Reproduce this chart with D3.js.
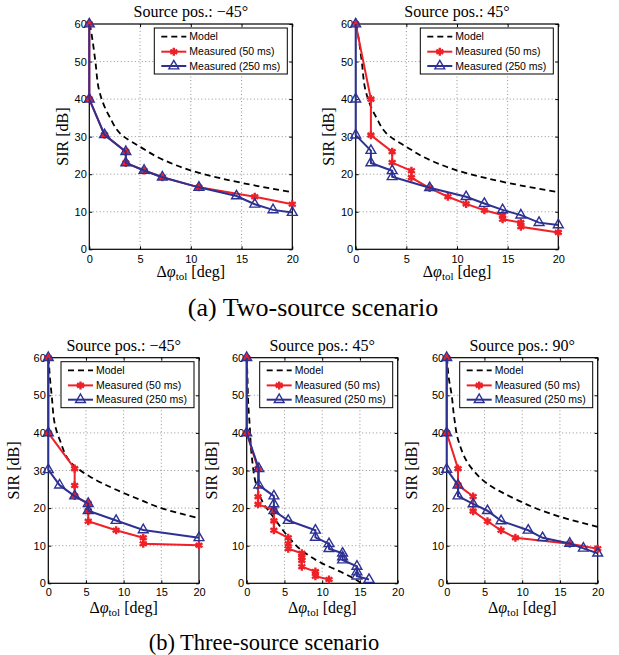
<!DOCTYPE html>
<html>
<head>
<meta charset="utf-8">
<script src="https://cdn.jsdelivr.net/npm/d3@7"></script>
<style>
  body { margin: 0; background: #fff; }
  svg { display: block; }
</style>
</head>
<body>
<script>
// tick values and labels
var xTicks = [0, 5, 10, 15, 20];
var yTicks = [0, 10, 20, 30, 40, 50, 60];
var seriesNames = ["Model", "Measured (50 ms)", "Measured (250 ms)"];
var panelTitles = ["Source pos.: \u221245\u00b0", "Source pos.: 45\u00b0",
                   "Source pos.: \u221245\u00b0", "Source pos.: 45\u00b0", "Source pos.: 90\u00b0"];
var captions = ["(a) Two-source scenario", "(b) Three-source scenario"];

// [delta phi tol (deg), SIR (dB)]
var modelTwo = [[0.05,60],[0.3,56],[0.6,50],[1.0,42],[1.5,38],[2.0,35.3],[3.4,30],[5,27.3],[7.3,23.8],[10.9,20.3],[15,17.7],[20,15.2]];
var twoNeg45_50 = [[0,60],[0,40],[1.5,30.5],[3.6,26],[3.6,23],[5.4,21],[7.2,19.2],[10.8,16.5],[16.3,14],[20,12]];
var twoNeg45_250 = [[0,60],[0,40],[1.5,30.5],[3.6,26],[3.6,23],[5.4,21],[7.2,19.2],[10.8,16.5],[14.5,14.2],[16.3,12],[18.1,10.5],[20,9.8]];
var two45_50 = [[0,60],[1.5,40],[1.5,30.4],[3.6,26],[3.6,23.1],[5.5,20.9],[5.5,19.1],[7.3,16.3],[9.1,14],[10.9,12.1],[12.7,10.4],[14.5,9.1],[14.5,8],[16.3,7.1],[16.3,6],[20,4.5]];
var two45_250 = [[0,60],[0,40],[0,30.4],[1.5,26.3],[1.5,23],[3.6,20.9],[3.6,19.3],[7.3,16.4],[10.9,14],[12.7,12.2],[14.5,10.5],[16.3,9.1],[18.1,7.1],[20,6.5]];

var modelThreeNeg45 = [[0.05,60],[0.2,55],[0.45,50],[0.9,42],[1.55,38],[3.3,31.5],[5.5,28.4],[9.1,24.8],[12.2,22.2],[14.4,20.4],[20,17.3]];
var threeNeg45_50 = [[0,60],[0,40],[3.5,30.5],[3.5,26],[3.5,23.2],[5.3,21.2],[5.3,19.3],[5.3,16.5],[9,14.1],[12.6,12.1],[12.6,10.5],[20,10.1]];
var threeNeg45_250 = [[0,60],[0,40],[0,30.2],[1.5,26.1],[3.5,23.2],[5.3,21.2],[5.3,19.3],[9,16.7],[12.6,14.2],[20,12.1]];

var modelThree45 = [[0,60],[0.1,55],[0.2,48],[0.4,42],[0.66,34],[1.3,26],[2.2,21.3],[3.5,17.7],[5.5,12.4],[7.5,8.4],[10,5.3],[12.4,3.1],[13.7,1.8],[15.2,0]];
var three45_50 = [[0,60],[0,40],[1.5,30.5],[1.5,23],[1.5,21],[3.6,19.5],[3.6,16.6],[3.6,14.1],[5.5,12.1],[5.5,10.5],[5.5,9.2],[7.3,8],[7.3,6.9],[7.3,6.1],[7.3,4.4],[9.1,3.1],[9.1,1.9],[10.9,1]];
var three45_250 = [[0,60],[0,40],[1.6,30.5],[1.6,26.1],[3.6,23.2],[3.6,21.1],[3.6,19.3],[5.5,16.7],[9.1,14.1],[9.1,12.2],[10.9,10.5],[10.9,9.2],[12.7,8],[12.7,7],[12.7,6.2],[14.6,4.5],[14.6,3],[14.6,1.9],[16.2,1]];

var modelThree90 = [[0.05,60],[0.25,55],[0.66,50],[1.0,44],[1.54,38],[3.5,30.1],[5.3,26.6],[9.3,22.2],[12.4,19.5],[15,17.7],[20,15]];
var three90_50 = [[0,60],[0,40],[1.5,30.5],[1.5,26.1],[3.5,23.1],[3.5,19.2],[5.4,16.5],[7.2,14.1],[9.1,12.1],[16.3,10.5],[20,9.2]];
var three90_250 = [[0,60],[0,40],[0,30.3],[1.5,26.1],[1.5,23.2],[3.5,21.1],[5.4,19.3],[7.2,16.6],[10.8,14.1],[12.7,12.1],[16.3,10.6],[18.1,9.3],[20,8]];

var W = 619, H = 655;
var red = "#ee2128", blue = "#2d3192";
var serif = "'Liberation Serif', 'Times New Roman', Times, serif";
var sans = "'Liberation Sans', Arial, Helvetica, sans-serif";

var svg = d3.select("body").append("svg")
  .attr("width", W)
  .attr("height", H);

// layout: plot boxes
var panels = [
  {x0: 89.3, x1: 292.3, y0: 24, y1: 249.3, title: panelTitles[0], model: modelTwo, s50: twoNeg45_50, s250: twoNeg45_250, ylabX: 68, tickPad: 5.5, xlabDy: 28},
  {x0: 355.7, x1: 558.3, y0: 24, y1: 249.3, title: panelTitles[1], model: modelTwo, s50: two45_50, s250: two45_250, ylabX: 334, tickPad: 5.5, xlabDy: 28},
  {x0: 48.3, x1: 199, y0: 357.7, y1: 583.3, title: panelTitles[2], model: modelThreeNeg45, s50: threeNeg45_50, s250: threeNeg45_250, ylabX: 19, tickPad: 5, xlabDy: 29.5},
  {x0: 246.7, x1: 397.7, y0: 357.7, y1: 583.3, title: panelTitles[3], model: modelThree45, s50: three45_50, s250: three45_250, ylabX: 217, tickPad: 5, xlabDy: 29.5},
  {x0: 446.7, x1: 597.7, y0: 357.7, y1: 583.3, title: panelTitles[4], model: modelThree90, s50: three90_50, s250: three90_250, ylabX: 417, tickPad: 5, xlabDy: 29.5}
];

var asterisk = d3.symbolAsterisk || d3.symbolCross;

function drawPanel(p) {
  var x = d3.scaleLinear().domain([0, 20]).range([p.x0, p.x1]);
  var y = d3.scaleLinear().domain([0, 60]).range([p.y1, p.y0]);
  var g = svg.append("g");

  g.append("rect")
    .attr("x", p.x0).attr("y", p.y0)
    .attr("width", p.x1 - p.x0).attr("height", p.y1 - p.y0)
    .attr("fill", "#fff");

  // dotted grid
  g.selectAll(".gx").data(xTicks.slice(1, -1)).enter().append("line")
    .attr("x1", function(d) { return x(d); }).attr("x2", function(d) { return x(d); })
    .attr("y1", p.y0).attr("y2", p.y1)
    .attr("stroke", "#777").attr("stroke-width", 0.8).attr("stroke-dasharray", "1,2.5");
  g.selectAll(".gy").data(yTicks.slice(1, -1)).enter().append("line")
    .attr("y1", function(d) { return y(d); }).attr("y2", function(d) { return y(d); })
    .attr("x1", p.x0).attr("x2", p.x1)
    .attr("stroke", "#777").attr("stroke-width", 0.8).attr("stroke-dasharray", "1,2.5");

  // axes, ticks pointing inwards on all four sides
  var ax = g.append("g").attr("transform", "translate(0," + p.y1 + ")")
    .call(d3.axisBottom(x).tickValues(xTicks).tickSizeInner(-3).tickSizeOuter(0).tickPadding(p.tickPad));
  var ay = g.append("g").attr("transform", "translate(" + p.x0 + ",0)")
    .call(d3.axisLeft(y).tickValues(yTicks).tickSizeInner(-3).tickSizeOuter(0).tickPadding(2.5));
  var at = g.append("g").attr("transform", "translate(0," + p.y0 + ")")
    .call(d3.axisTop(x).tickValues(xTicks).tickSizeInner(-3).tickSizeOuter(0).tickFormat(""));
  var ar = g.append("g").attr("transform", "translate(" + p.x1 + ",0)")
    .call(d3.axisRight(y).tickValues(yTicks).tickSizeInner(-3).tickSizeOuter(0).tickFormat(""));
  [ax, ay, at, ar].forEach(function(a) {
    a.select(".domain").remove();
    a.selectAll("text").attr("font-family", sans)
      .attr("font-size", 11).attr("fill", "#000");
    a.selectAll("line").attr("stroke", "#000");
  });

  g.append("rect")
    .attr("x", p.x0).attr("y", p.y0)
    .attr("width", p.x1 - p.x0).attr("height", p.y1 - p.y0)
    .attr("fill", "none").attr("stroke", "#000").attr("stroke-width", 1.2);

  var line = d3.line().x(function(d) { return x(d[0]); }).y(function(d) { return y(d[1]); });

  g.append("path").datum(p.model)
    .attr("d", line.curve(d3.curveMonotoneY))
    .attr("fill", "none").attr("stroke", "#000").attr("stroke-width", 1.8)
    .attr("stroke-dasharray", "6,4");
  line.curve(d3.curveLinear);

  g.append("path").datum(p.s50)
    .attr("d", line)
    .attr("fill", "none").attr("stroke", red).attr("stroke-width", 2);
  g.selectAll(".m50").data(p.s50).enter().append("path")
    .attr("transform", function(d) { return "translate(" + x(d[0]) + "," + y(d[1]) + ")"; })
    .attr("d", d3.symbol().type(asterisk).size(45))
    .attr("fill", "none").attr("stroke", red).attr("stroke-width", 2.4);

  g.append("path").datum(p.s250)
    .attr("d", line)
    .attr("fill", "none").attr("stroke", blue).attr("stroke-width", 2);
  g.selectAll(".m250").data(p.s250).enter().append("path")
    .attr("transform", function(d) { return "translate(" + x(d[0]) + "," + y(d[1]) + ")"; })
    .attr("d", d3.symbol().type(d3.symbolTriangle).size(42))
    .attr("fill", "none").attr("stroke", blue).attr("stroke-width", 1.4);

  // title
  g.append("text")
    .attr("x", (p.x0 + p.x1) / 2).attr("y", p.y0 - 7)
    .attr("text-anchor", "middle")
    .attr("font-family", serif)
    .attr("font-size", 16)
    .text(p.title);

  // y label
  g.append("text")
    .attr("transform", "translate(" + p.ylabX + "," + ((p.y0 + p.y1) / 2) + ") rotate(-90)")
    .attr("text-anchor", "middle")
    .attr("font-family", serif)
    .attr("font-size", 16)
    .text("SIR [dB]");

  // x label
  var xl = g.append("text")
    .attr("x", (p.x0 + p.x1) / 2).attr("y", p.y1 + p.xlabDy)
    .attr("text-anchor", "middle")
    .attr("font-family", serif)
    .attr("font-size", 16);
  xl.append("tspan").text("\u0394");
  xl.append("tspan").attr("font-style", "italic").text("\u03c6");
  xl.append("tspan").attr("font-size", 11).attr("dy", 3).text("tol");
  xl.append("tspan").attr("dy", -3).text(" [deg]");

  // legend
  var lw = 133, lh = 46;
  var lx = p.x1 - 5 - lw, ly = p.y0 + 4;
  var lg = g.append("g").attr("transform", "translate(" + lx + "," + ly + ")");
  lg.append("rect").attr("width", lw).attr("height", lh)
    .attr("fill", "#fff").attr("stroke", "#000").attr("stroke-width", 1);
  var rows = [8.7, 23.7, 38];
  var styles = [
    {stroke: "#000", dash: "6,4", sym: null},
    {stroke: red, dash: null, sym: asterisk},
    {stroke: blue, dash: null, sym: d3.symbolTriangle}
  ];
  seriesNames.forEach(function(name, i) {
    var st = styles[i];
    lg.append("line")
      .attr("x1", 7).attr("x2", 32).attr("y1", rows[i]).attr("y2", rows[i])
      .attr("stroke", st.stroke).attr("stroke-width", i === 0 ? 1.8 : 2)
      .attr("stroke-dasharray", st.dash);
    if (st.sym) {
      lg.append("path")
        .attr("transform", "translate(19.5," + rows[i] + ")")
        .attr("d", d3.symbol().type(st.sym).size(i === 1 ? 45 : 42))
        .attr("fill", "none").attr("stroke", st.stroke).attr("stroke-width", i === 1 ? 2.4 : 1.4);
    }
    lg.append("text")
      .attr("x", 35).attr("y", rows[i])
      .attr("dy", "0.35em")
      .attr("font-family", sans)
      .attr("font-size", 10.5)
      .text(name);
  });
}

panels.forEach(drawPanel);

// sub-figure captions
svg.append("text")
  .attr("x", 313).attr("y", 316)
  .attr("text-anchor", "middle")
  .attr("font-family", serif)
  .attr("font-size", 26)
  .text(captions[0]);
svg.append("text")
  .attr("x", 264).attr("y", 650)
  .attr("text-anchor", "middle")
  .attr("font-family", serif)
  .attr("font-size", 22.5)
  .text(captions[1]);
</script>
</body>
</html>
